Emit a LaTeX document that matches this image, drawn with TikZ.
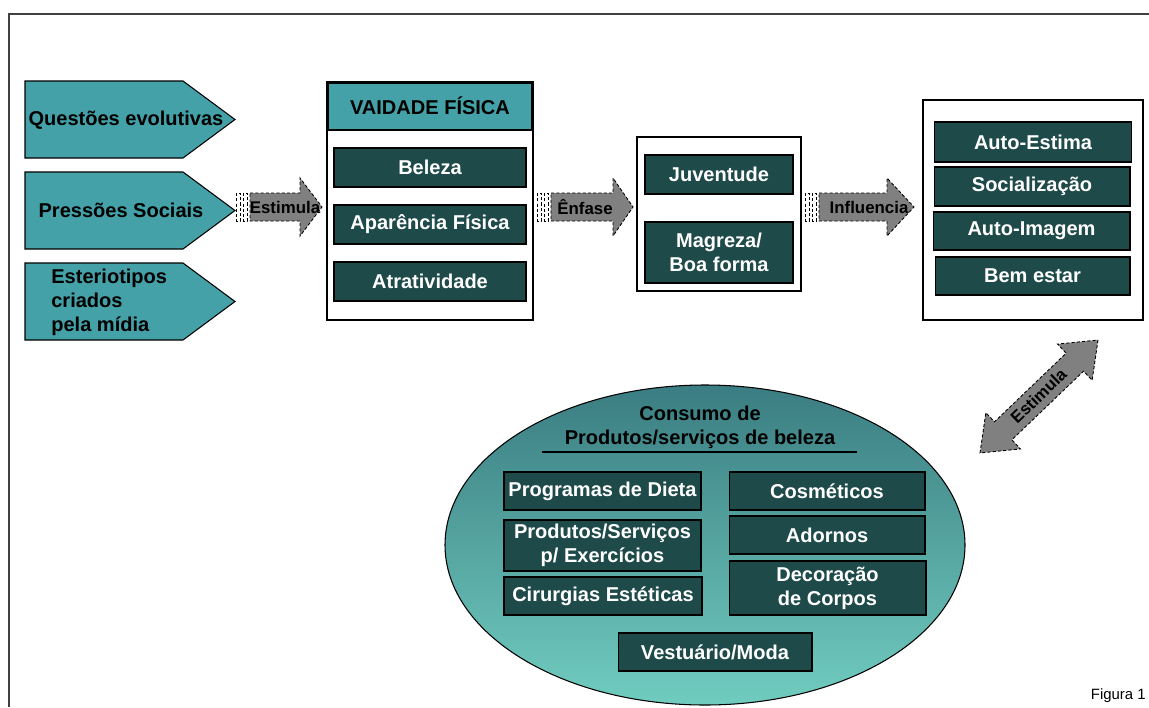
\documentclass[tikz,border=0pt]{standalone}
\usepackage{fontspec}
\setmainfont{Liberation Sans}
\usepackage{tikz}
\definecolor{uvaqay}{rgb}{0.27,0.63,0.66}
\definecolor{rfuzuz}{rgb}{0.12,0.29,0.29}
\definecolor{yqyqyq}{rgb}{0.5,0.5,0.5}
\definecolor{taxdys}{rgb}{0.23,0.49,0.51}
\definecolor{xqcdbe}{rgb}{0.44,0.8,0.75}
\definecolor{tqtqtq}{rgb}{0.25,0.25,0.25}

\begin{document}
\begin{tikzpicture}[x=0.02cm,y=-0.02cm,
	caixa/.style={draw=black,line width=0.6pt,fill=rfuzuz,text=white,align=center,inner sep=0pt,font=\bfseries\fontsize{11.4}{13.7}\selectfont},
	rotulo/.style={text=black,align=center,inner sep=0pt,font=\bfseries\fontsize{11.4}{13.7}\selectfont},
	seta/.style={draw=black,fill=yqyqyq,line width=0.5pt,dash pattern=on 1.8pt off 1.2pt},
	faixa/.style={draw=black,fill=white,line width=0.5pt,dash pattern=on 1.8pt off 1.2pt},
	setatexto/.style={text=black,inner sep=0pt,font=\bfseries\fontsize{9.6}{11}\selectfont}]
	\useasboundingbox (0,0) rectangle (1149,707);
	\draw [line width=1.2pt,color=tqtqtq] (9,707) -- (9,14) -- (1149,14);

	\foreach \y in {81,172,263}
		\draw [line width=0.6pt,fill=uvaqay] (25,\y) -- (183,\y) -- (235,\y+38.5) -- (183,\y+77) -- (25,\y+77) -- cycle;
	\node[rotulo] (questoes) at (126,120) {Questões evolutivas};
	\node[rotulo] (pressoes) at (121,210) {Pressões Sociais};
	\node[rotulo,align=left,anchor=west] (esteriotipos) at (51,302) {Esteriotipos\\criados\\pela mídia};

	\foreach \a/\b/\c/\m/\n/\t in {236/300/322/285/estimula/Estimula, 537/613/633/585/enfase/Ênfase, 805/887/914/869/influencia/Influencia}{
		\draw [faixa] (\a,193) rectangle (\a+4,221);
		\draw [faixa] (\a+7,193) rectangle (\a+11,221);
		\draw [seta] (\a+14,193) -- (\b,193) -- (\b,178) -- (\c,207) -- (\b,236) -- (\b,221) -- (\a+14,221) -- cycle;
		\node[setatexto] (\n) at (\m,207) {\t};
	}

	\draw [line width=0.7pt,fill=white] (327,82) rectangle (533,320);
	\node[rotulo,draw=black,line width=1.7pt,fill=uvaqay,minimum width=4.12cm,minimum height=0.96cm] (vaidade) at (430,106) {VAIDADE FÍSICA};
	\node[caixa,minimum width=3.84cm,minimum height=0.78cm] (beleza) at (430,167.5) {Beleza};
	\node[caixa,minimum width=3.84cm,minimum height=0.78cm] (aparencia) at (430,224.5) {Aparência Física};
	\node[caixa,minimum width=3.84cm,minimum height=0.78cm] (atratividade) at (430,281.5) {Atratividade};

	\draw [line width=0.7pt,fill=white] (637,137) rectangle (801,291);
	\node[caixa,minimum width=2.96cm,minimum height=0.78cm] (juventude) at (719,174.5) {Juventude};
	\node[caixa,minimum width=2.96cm,minimum height=1.22cm] (magreza) at (719,252.5) {Magreza/\\Boa forma};

	\draw [line width=0.7pt,fill=white] (923,100) rectangle (1143,320);
	\node[caixa,minimum width=3.94cm,minimum height=0.8cm] (autoestima) at (1033,142) {Auto-Estima};
	\node[caixa,minimum width=3.92cm,minimum height=0.78cm] (socializacao) at (1032,186.5) {Socialização};
	\node[caixa,minimum width=3.94cm,minimum height=0.76cm] (autoimagem) at (1031.5,231) {Auto-Imagem};
	\node[caixa,minimum width=3.9cm,minimum height=0.76cm] (bemestar) at (1032.5,276) {Bem estar};

	\draw [seta] (1098,340) -- (1092.16,380.28) -- (1083.5,371.23) -- (1011.84,439.87) -- (1020.5,448.92) -- (980,453) -- (985.84,412.72) -- (994.5,421.77) -- (1066.16,353.13) -- (1057.5,344.08) -- cycle;
	\node[setatexto,rotate=44] (estimula2) at (1038.5,396) {Estimula};

	\draw [line width=0.6pt,top color=taxdys,bottom color=xqcdbe] (705,545) ellipse (260 and 160);
	\node[rotulo] (consumo) at (700,427) {Consumo de\\Produtos/serviços de beleza};
	\draw [line width=1.2pt] (542,452) -- (857,452);
	\node[caixa,minimum width=3.94cm,minimum height=0.76cm] (dieta) at (602.5,491) {Programas de Dieta};
	\node[caixa,minimum width=3.94cm,minimum height=1.02cm] (exercicios) at (602.5,545.5) {Produtos/Serviços\\p/ Exercícios};
	\node[caixa,minimum width=3.96cm,minimum height=0.76cm] (cirurgias) at (603,596) {Cirurgias Estéticas};
	\node[caixa,minimum width=3.92cm,minimum height=0.76cm] (cosmeticos) at (827,491) {Cosméticos};
	\node[caixa,minimum width=3.92cm,minimum height=0.76cm] (adornos) at (827,535) {Adornos};
	\node[caixa,minimum width=3.94cm,minimum height=1.08cm] (decoracao) at (827.5,588) {Decoração\\de Corpos};
	\node[caixa,minimum width=3.88cm,minimum height=0.76cm] (vestuario) at (715,652) {Vestuário/Moda};

	\node[inner sep=0pt,anchor=east,font=\fontsize{8.5}{10}\selectfont] (figura) at (1146,696) {Figura 1};
\end{tikzpicture}
\end{document}
